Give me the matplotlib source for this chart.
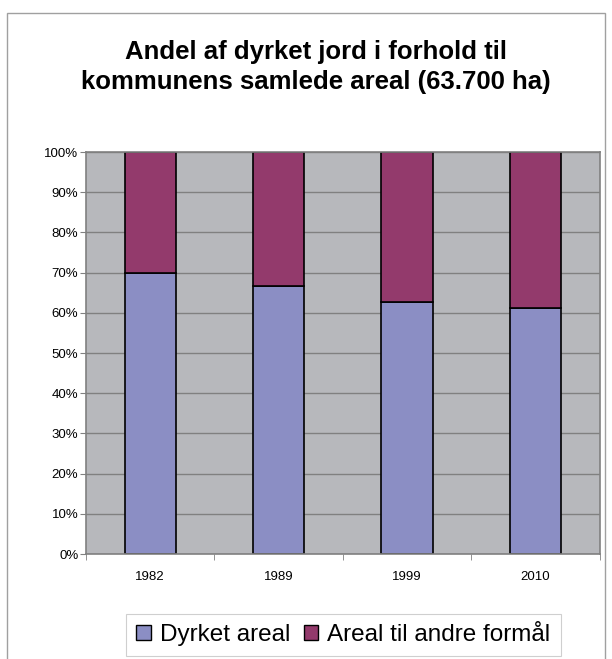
import matplotlib.pyplot as plt
import numpy as np
from matplotlib.patches import Rectangle
from matplotlib.ticker import FixedLocator, PercentFormatter

plt.rcParams['font.family'] = ['Liberation Sans', 'DejaVu Sans']

years = ['1982', '1989', '1999', '2010']
dyrket = [70.0, 66.7, 62.7, 61.3]
andre = [30.0, 33.3, 37.3, 38.7]

blue = '#8b8ec4'
purple = '#933a6c'
bg = '#b7b8bc'
grid = '#808080'

fig = plt.figure(figsize=(6.12, 6.59), dpi=100)
ax = fig.add_axes([0.1405, 0.1593, 0.8395, 0.61])

x = np.arange(len(years))
ax.bar(x, dyrket, width=0.4, color=blue, edgecolor='black', linewidth=1.2, label='Dyrket areal')
ax.bar(x, andre, width=0.4, bottom=dyrket, color=purple, edgecolor='black', linewidth=1.2,
       label='Areal til andre formål')

ax.set_facecolor(bg)
ax.set_axisbelow(True)
ax.set_xlim(-0.5, 3.5)
ax.set_ylim(0, 100)
ax.set_yticks(np.arange(0, 101, 10))
ax.yaxis.set_major_formatter(PercentFormatter(decimals=0))
ax.yaxis.grid(True, color=grid, linewidth=1.0)
ax.set_xticks(x)
ax.set_xticklabels(years)
ax.xaxis.set_minor_locator(FixedLocator([-0.5, 0.5, 1.5, 2.5, 3.5]))
ax.tick_params(axis='x', which='major', length=0, pad=12, labelsize=9.5)
ax.tick_params(axis='x', which='minor', length=4, color=grid, direction='out')
ax.tick_params(axis='y', length=4, color=grid, pad=1.5, labelsize=9.5)
for s in ax.spines.values():
    s.set_color(grid)
    s.set_linewidth(1.2)

fig.text(0.516, 0.898, 'Andel af dyrket jord i forhold til\nkommunens samlede areal (63.700 ha)',
         ha='center', va='center', fontsize=18.5, fontweight='bold', linespacing=1.3)

leg = ax.legend(loc='center', bbox_to_anchor=(0.561, 0.0364), bbox_transform=fig.transFigure,
                ncol=2, fontsize=17.5, frameon=True, fancybox=False, edgecolor='#c4c4c4',
                handlelength=0.6, handleheight=0.6, handletextpad=0.38, columnspacing=0.55,
                borderpad=0.42, borderaxespad=0)
leg.get_frame().set_linewidth(0.8)
for h in leg.legend_handles:
    h.set_linewidth(1.0)

fig.patches.append(Rectangle((7 / 612, -0.01), 598 / 612, 1 - 13 / 659 + 0.01,
                             transform=fig.transFigure, fill=False, edgecolor='#a0a0a0',
                             linewidth=1.0))

fig.savefig('out.png', dpi=100)
